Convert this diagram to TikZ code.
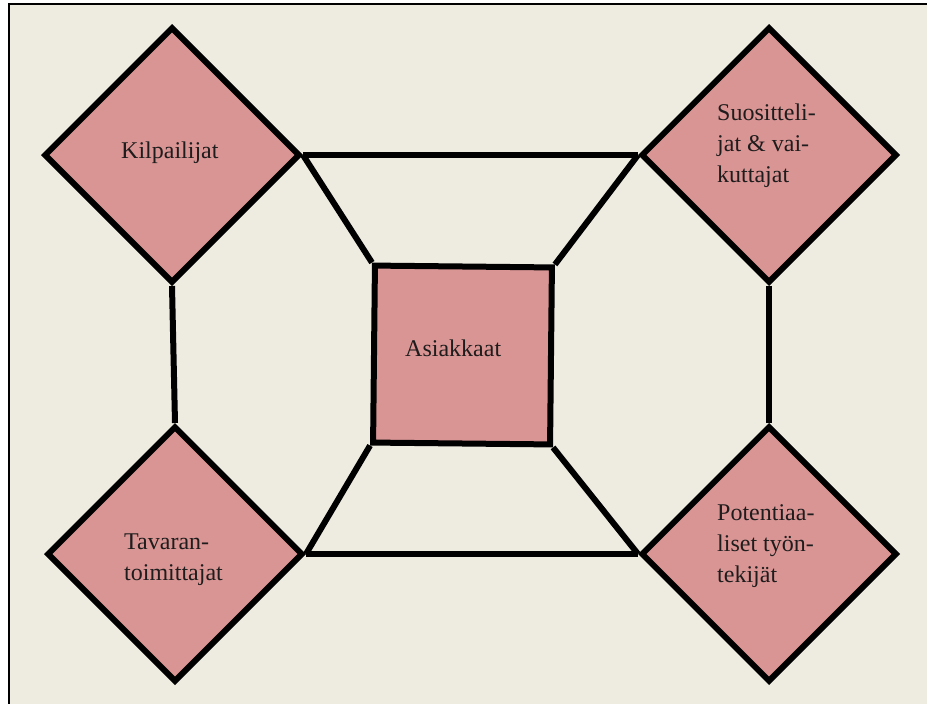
\documentclass[tikz,border=0pt]{standalone}
\usepackage{fontspec}
\setmainfont{Liberation Serif}
\usetikzlibrary{shapes.geometric}
\definecolor{bg}{RGB}{238,236,225}
\definecolor{pinkfill}{RGB}{217,149,148}
\definecolor{txt}{RGB}{30,28,28}
\begin{document}
\begin{tikzpicture}[x=1pt,y=-1pt,
  dia/.style={diamond, draw=black, line width=6pt, fill=pinkfill, minimum width=256pt, minimum height=256pt, inner sep=0pt, aspect=1},
  sqbox/.style={rectangle, draw=black, line width=6pt, fill=pinkfill, minimum size=177pt, inner sep=0pt},
  conn/.style={draw=black, line width=6pt},
  lbl/.style={font=\fontsize{24}{31}\selectfont, text=txt, inner sep=0pt, align=left}
]
\useasboundingbox (0,0) rectangle (927,704);
\fill[white] (0,0) rectangle (927,704);
\draw[fill=bg, line width=2pt] (9,4) rectangle (960,740);

\node[dia] (kil) at (172,155) {};
\node[dia] (suo) at (769,155) {};
\node[dia] (tav) at (175,554) {};
\node[dia] (pot) at (769,554) {};
\node[sqbox, rotate=-0.6] (asi) at (462.5,355) {};

\draw[conn] (kil.east) -- (suo.west);
\draw[conn] (tav.east) -- (pot.west);
\draw[conn] (kil.south) -- (tav.north);
\draw[conn] (suo.south) -- (pot.north);
\draw[conn] (kil.east) -- (asi.north west);
\draw[conn] (suo.west) -- (asi.north east);
\draw[conn] (tav.east) -- (asi.south west);
\draw[conn] (pot.west) -- (asi.south east);

\node[lbl, anchor=base west] (tkil) at (121,158) {Kilpailijat};
\node[lbl, anchor=base west] (tsuo) at (717,182) {Suositteli-\\jat \& vai-\\kuttajat};
\node[lbl, anchor=base west] (ttav) at (124,580) {Tavaran-\\toimittajat};
\node[lbl, anchor=base west] (tpot) at (717,582) {Potentiaa-\\liset työn-\\tekijät};
\node[lbl, anchor=base west] (tasi) at (405,356) {Asiakkaat};
\end{tikzpicture}
\end{document}
